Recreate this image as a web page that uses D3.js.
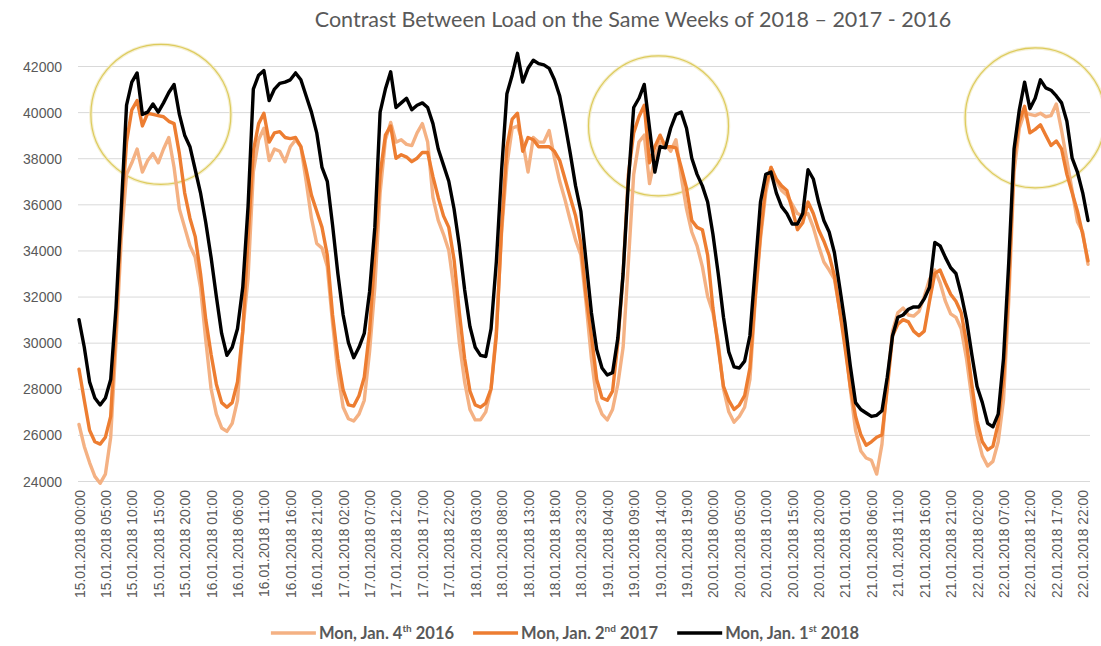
<!DOCTYPE html>
<html><head><meta charset="utf-8">
<script src="https://cdn.jsdelivr.net/npm/d3@7"></script>
<style>
body{margin:0;background:#fff;}
svg{display:block;font-family:Lato,"Open Sans",sans-serif;}
</style></head><body>
<svg id="chart" width="1101" height="646"></svg>
<script>
// ---------- DATA ----------
const titleText = "Contrast Between Load on the Same Weeks of 2018 \u2013 2017 - 2016";
const hourIndex = d3.range(192); // hourly, 15.01.2018 00:00 ... 22.01.2018 23:00
const yTicks = [24000, 26000, 28000, 30000, 32000, 34000, 36000, 38000, 40000, 42000];
const tickLabels = [
 "15.01.2018 00:00","15.01.2018 05:00","15.01.2018 10:00","15.01.2018 15:00","15.01.2018 20:00",
 "16.01.2018 01:00","16.01.2018 06:00","16.01.2018 11:00","16.01.2018 16:00","16.01.2018 21:00",
 "17.01.2018 02:00","17.01.2018 07:00","17.01.2018 12:00","17.01.2018 17:00","17.01.2018 22:00",
 "18.01.2018 03:00","18.01.2018 08:00","18.01.2018 13:00","18.01.2018 18:00","18.01.2018 23:00",
 "19.01.2018 04:00","19.01.2018 09:00","19.01.2018 14:00","19.01.2018 19:00",
 "20.01.2018 00:00","20.01.2018 05:00","20.01.2018 10:00","20.01.2018 15:00","20.01.2018 20:00",
 "21.01.2018 01:00","21.01.2018 06:00","21.01.2018 11:00","21.01.2018 16:00","21.01.2018 21:00",
 "22.01.2018 02:00","22.01.2018 07:00","22.01.2018 12:00","22.01.2018 17:00","22.01.2018 22:00"
];
const tickStep = 5; // a label every 5 hours

const load2016 = [
 26450,25500,24800,24200,23900,24300,25900,30000,34500,37300,37800,38400,37400,37900,38200,37800,38400,38900,37600,35800,35000,34200,33700,32400,
 30100,28000,26900,26300,26150,26500,27500,30500,32800,37400,38800,39300,37900,38400,38300,37850,38500,38800,38500,37000,35400,34300,34100,33300,
 30850,28700,27200,26700,26600,26900,27500,29600,32400,36500,38800,39550,38700,38800,38600,38550,39100,39500,38700,36300,35300,34700,34000,32300,
 30000,28300,27100,26650,26650,27000,28000,30500,34800,37700,39300,39400,38700,37400,38900,38700,38700,39200,38000,37000,36200,35300,34450,33800,
 31700,29300,27500,26900,26650,27100,28200,29800,33500,37300,38700,39000,36900,38000,38700,38600,38300,38800,37200,35800,34800,34200,33300,32000,
 31300,30000,28000,27000,26550,26800,27200,28400,31800,34500,36500,37600,37000,36600,36400,36000,35600,35500,35600,35000,34200,33500,33150,32750,
 31400,30100,28000,26200,25300,25000,24900,24300,25600,28300,30500,31300,31500,31200,31150,31350,32000,32750,33150,32600,31800,31250,31100,30600,
 29300,27600,26000,25100,24650,24850,25700,27500,31800,37400,39300,40000,39900,39850,39950,39800,39850,40350,39200,37900,36600,35250,34800,33400
];
const load2017 = [
 28850,27500,26200,25700,25600,25900,26800,30800,35400,38700,40100,40500,39400,39950,39900,39850,39800,39600,39500,38200,36500,35400,34600,33000,
 31000,29500,28200,27400,27200,27400,28300,30500,34500,38300,39500,39950,38700,39100,39150,38900,38850,38900,38500,37500,36400,35700,35000,33800,
 31200,29300,27950,27300,27250,27700,28500,30500,33800,37300,39000,39400,38000,38150,38050,37850,38000,38250,38250,37200,36300,35500,35000,33600,
 31300,29300,27900,27300,27200,27380,28000,30300,35000,38500,39700,39950,38300,38900,38800,38500,38500,38500,38300,37900,37100,36300,35500,34300,
 32000,30300,28400,27600,27500,27900,30000,33000,37300,39100,39800,40300,37800,38500,39000,38500,38500,38450,37600,36700,35300,35000,34900,33800,
 31500,29800,28100,27500,27100,27300,27700,28900,32000,34700,36800,37600,37100,36800,36600,35800,34900,35200,36100,35600,34900,34400,33800,32900,
 31400,29800,28100,26800,26000,25550,25700,25900,26000,28000,30300,30800,31000,30900,30500,30300,30500,31800,33000,33150,32600,32100,31800,31300,
 30000,28200,26600,25700,25350,25500,26500,28400,32500,38000,39600,40250,39100,39250,39450,39000,38550,38750,38400,37300,36500,35700,34700,33550
];
const load2018 = [
 31000,29800,28300,27600,27300,27600,28400,31500,35800,40300,41300,41700,39900,40000,40350,40000,40400,40850,41200,39900,39000,38500,37500,36500,
 35200,33700,32000,30400,29450,29800,30600,32400,35900,41000,41600,41800,40500,41000,41250,41300,41400,41700,41400,40700,40000,39100,37600,37000,
 35100,33000,31200,30000,29350,29800,30400,32200,35000,40000,41000,41750,40200,40400,40600,40100,40300,40400,40200,39500,38400,37700,37000,35800,
 34200,32300,30700,29800,29450,29400,30600,33500,37500,40800,41600,42550,41300,41900,42250,42100,42050,41900,41400,40700,39500,38200,36800,35700,
 33500,31300,29700,28900,28600,28700,30200,33000,37000,40200,40600,41200,39300,37400,38500,38450,39300,39900,40000,39300,38000,37300,36800,36100,
 34700,33000,31100,29600,28950,28900,29200,30300,33200,36100,37300,37400,36500,35900,35600,35150,35150,35600,37500,37100,36100,35300,34800,33900,
 32400,30850,29000,27400,27100,26950,26800,26850,27050,28500,30300,31100,31200,31450,31550,31550,31900,32400,34350,34200,33700,33250,33000,32100,
 31000,29500,28100,27400,26500,26350,26900,29300,33500,38400,40100,41300,40150,40600,41400,41050,40950,40700,40400,39600,38000,37400,36500,35300
];
const seriesLabels = [
 ["Mon, Jan. 4", "th", " 2016"],
 ["Mon, Jan. 2", "nd", " 2017"],
 ["Mon, Jan. 1", "st", " 2018"]
];
const seriesColors = ["#F4B183", "#ED7D31", "#000000"];
// highlight circles (hour position, load value)
const circleHours = [15.5, 109.7, 181];
const circleLoads = [39900, 39400, 39750];

// ---------- LAYOUT ----------
const svg = d3.select("#chart");
const plotL = 78, plotR = 1090;
const x = d3.scaleLinear().domain([0, 191]).range([79, 1088]);
const y = d3.scaleLinear().domain([24000, 42000]).range([481, 66]);
const grey = "#595959";

// title
const title = svg.append("text").text(titleText)
  .attr("x", 633).attr("y", 27).attr("text-anchor", "middle")
  .attr("fill", grey).style("font-size", "21px");
const tw = title.node().getComputedTextLength();
title.style("font-size", (21 * 637 / tw) + "px");

// y axis + grid
const yAxis = svg.append("g").attr("transform", `translate(${plotL},0)`)
  .call(d3.axisLeft(y).tickValues(yTicks).tickSize(-(plotR - plotL)).tickPadding(16).tickFormat(d3.format("d")));
yAxis.select(".domain").remove();
yAxis.selectAll("line").attr("stroke", "#d9d9d9").attr("stroke-width", 1);
yAxis.selectAll("text").attr("fill", grey).style("font-size", "14px").attr("dy", "0.36em");

// x axis labels
const tickHours = tickLabels.map((_, i) => i * tickStep);
const xAxis = svg.append("g").attr("transform", `translate(0,${y(24000)})`)
  .call(d3.axisBottom(x).tickValues(tickHours).tickSize(0).tickFormat((d, i) => tickLabels[i]));
xAxis.select(".domain").remove();
const xt = xAxis.selectAll("text")
  .attr("transform", "rotate(-90)").attr("x", -9).attr("y", 0).attr("dy", "0.36em")
  .style("text-anchor", "end").attr("fill", grey).style("font-size", "13px");
const lw = xt.node().getComputedTextLength();
xt.style("font-size", (13 * 108 / lw) + "px");

// circles
const circG = svg.append("g");
circleHours.forEach((h, i) => {
  circG.append("circle").attr("cx", x(h)).attr("cy", y(circleLoads[i])).attr("r", 70)
    .attr("fill", "none").attr("stroke", "#f3ebc4").attr("stroke-width", 3.5).attr("opacity", 0.8);
  circG.append("circle").attr("cx", x(h)).attr("cy", y(circleLoads[i])).attr("r", 70)
    .attr("fill", "none").attr("stroke", "#ddcb5c").attr("stroke-width", 1.2);
});

// lines
const line = d3.line().x((d, i) => x(hourIndex[i])).y(d => y(d));
[load2016, load2017, load2018].forEach((s, i) => {
  svg.append("path").datum(s).attr("d", line)
    .attr("fill", "none").attr("stroke", seriesColors[i])
    .attr("stroke-width", 3.4).attr("stroke-linejoin", "round").attr("stroke-linecap", "round");
});

// legend
const leg = svg.append("g");
let lx = 0;
const sampleLen = 45, gap = 19;
seriesLabels.forEach((parts, i) => {
  const g = leg.append("g");
  g.append("line").attr("x1", 0).attr("x2", sampleLen).attr("y1", 0).attr("y2", 0)
    .attr("stroke", seriesColors[i]).attr("stroke-width", 3.4);
  const t = g.append("text").attr("x", sampleLen + 3).attr("y", 0).attr("dy", "0.36em")
    .attr("fill", grey).style("font-size", "16.5px").style("font-weight", "bold");
  t.append("tspan").text(parts[0]);
  t.append("tspan").text(parts[1]).style("font-size", "10px").attr("dy", "-0.65em");
  t.append("tspan").text(parts[2]).attr("dy", "0.4em");
  const w = sampleLen + 3 + t.node().getComputedTextLength();
  g.attr("transform", `translate(${lx},0)`);
  lx += w + gap;
});
const legW = lx - gap;
leg.attr("transform", `translate(${565 - legW / 2},633)`);
</script>
</body></html>
